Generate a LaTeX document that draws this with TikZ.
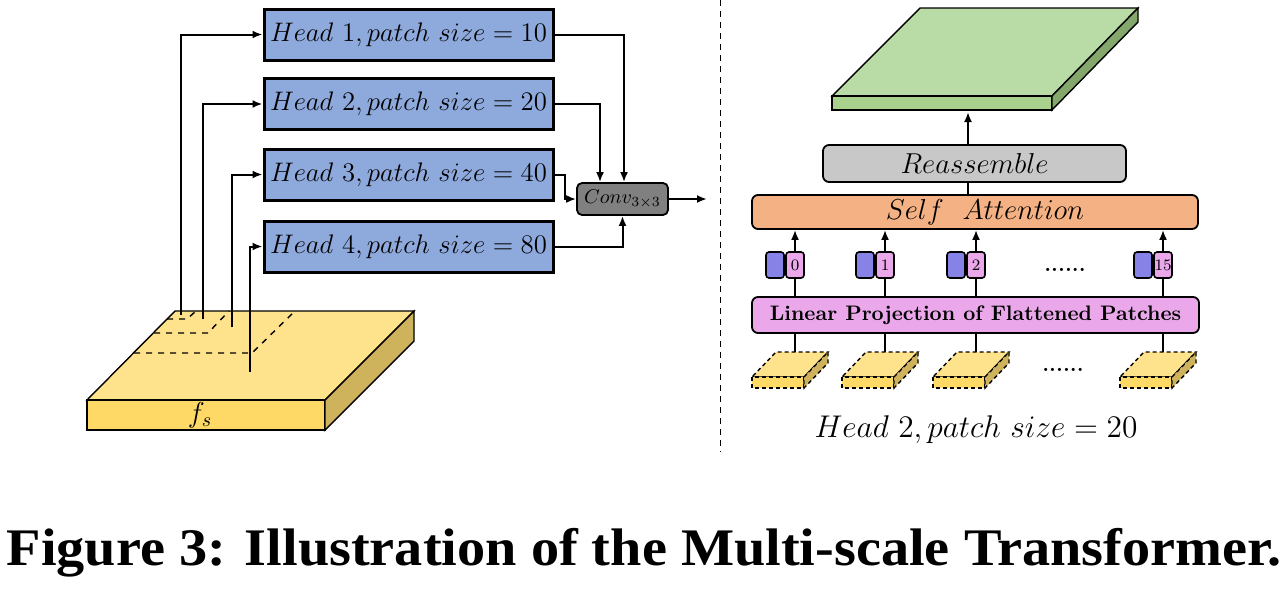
\RequirePackage{fix-cm}
\documentclass[tikz,border=0pt]{standalone}
\usepackage{fontspec}
\usepackage{graphicx}
\newfontfamily\capfont{Liberation Serif}
\usetikzlibrary{arrows.meta}
\definecolor{headblue}{RGB}{142,169,219}
\definecolor{convgray}{RGB}{128,128,128}
\definecolor{reagray}{RGB}{200,200,200}
\definecolor{attorange}{RGB}{244,177,131}
\definecolor{projpink}{RGB}{234,168,234}
\definecolor{tokblue}{RGB}{135,130,230}
\definecolor{slabtop}{RGB}{255,226,140}
\definecolor{slabfront}{RGB}{255,217,102}
\definecolor{slabside}{RGB}{207,178,92}
\definecolor{greentop}{RGB}{185,220,166}
\definecolor{greenfront}{RGB}{169,209,142}
\definecolor{greenside}{RGB}{132,168,108}
\tikzset{
  fleche/.style={-{Latex[length=5pt,width=4pt]},line width=1pt},
  trait/.style={line width=1pt},
  headbox/.style={draw,line width=1.5pt,fill=headblue,minimum width=144.5pt,minimum height=25.5pt,inner sep=0pt,font=\fontsize{13.4}{15}\selectfont},
  convbox/.style={draw,line width=0.9pt,fill=convgray,rounded corners=2.5pt,minimum width=45.5pt,minimum height=16pt,inner sep=0pt,font=\fontsize{10}{12}\selectfont},
  layerbox/.style={draw,line width=0.9pt,rounded corners=3pt,inner sep=0pt,font=\fontsize{14.4}{16}\selectfont},
  tokbox/.style={draw,line width=0.8pt,rounded corners=1.5pt,minimum width=9pt,minimum height=13pt,inner sep=0pt,font=\fontsize{8}{9}\selectfont},
  face/.style={draw,line width=0.7pt},
  patchface/.style={draw,line width=0.7pt,dash pattern=on 2pt off 1.5pt}
}
\begin{document}
\begin{tikzpicture}[x=0.5pt,y=-0.5pt]
\useasboundingbox (0,0) rectangle (1288,589);
% partie gauche
\draw[face,fill=slabtop] (175,311)--(414,311)--(325,400)--(87,400)--cycle;
\draw[face,fill=slabfront] (87,400) rectangle (325,430);
\draw[face,fill=slabside] (325,400)--(414,311)--(414,341)--(325,430)--cycle;
\draw[dashed,line width=0.7pt] (167,319)--(187,319)--(196,311);
\draw[dashed,line width=0.7pt] (154,333)--(208,333)--(229,311);
\draw[dashed,line width=0.7pt] (134,353)--(252,353)--(295,311);
\node (fs) at (200,415) {\fontsize{14.4}{16}\selectfont$f_s$};
\coordinate (p1) at (181,315);
\coordinate (p2) at (203,319);
\coordinate (p3) at (232,327);
\coordinate (p4) at (250,372);
\foreach \i/\p/\y in {1/10/34.5,2/20/104,3/40/174.5,4/80/246.5}
  \node[headbox] (h\i) at (408.5,\y) {$Head\ \i, patch\ size = \p$};
\foreach \i in {1,...,4}
  \draw[fleche] (p\i) |- (h\i.west);
\node[convbox] (conv) at (622.5,199) {$Conv_{3\times 3}$};
\draw[fleche] (h1.east) -| ([xshift=0.75pt]conv.north);
\draw[fleche] (h2.east) -| ([xshift=-11.25pt]conv.north);
\draw[fleche] (h3.east) -- ++(10,0) |- (conv.west);
\draw[fleche] (h4.east) -| (conv.south);
\coordinate (out) at (707,199);
\draw[fleche] (conv.east) -- (out);
\draw[line width=0.5pt,dash pattern=on 3pt off 2.5pt] (720,0) -- (720,452);
% partie droite
\draw[face,fill=greentop] (920,8)--(1138,8)--(1052,96)--(832,96)--cycle;
\draw[face,fill=greenfront] (832,96) rectangle (1052,110);
\draw[face,fill=greenside] (1052,96)--(1138,8)--(1138,22)--(1052,110)--cycle;
\coordinate (gs) at (968,112);
\node[layerbox,fill=reagray,minimum width=151.5pt,minimum height=18.5pt] (rea) at (974.5,163.5) {$Reassemble$};
\node[layerbox,fill=attorange,minimum width=223pt,minimum height=17pt] (sa) at (975,212) {\hspace{10pt}$Self\ \ Attention$};
\node[layerbox,fill=projpink,minimum width=223.5pt,minimum height=18pt,font=\fontsize{10.5}{12}\selectfont\bfseries] (lp) at (975.5,315) {Linear Projection of Flattened Patches};
\draw[fleche] (rea.north -| gs) -- (gs);
\draw[trait] (sa.north -| gs) -- (rea.south -| gs);
\foreach \i/\x/\n in {1/795/0,2/885/1,3/976/2,4/1163/15}{
  \node[tokbox,fill=projpink] (t\i) at (\x,265) {\n};
  \node[tokbox,fill=tokblue] (b\i) at (\x-20,265) {};
  \draw[fleche] (t\i.north) -- (t\i.north |- sa.south);
  \draw[trait] (lp.north -| t\i) -- (t\i.south);
  \draw[patchface,fill=slabtop] (\x-43,377)--(\x+9,377)--(\x+33,352)--(\x-19,352)--cycle;
  \draw[patchface,fill=slabfront] (\x-43,377) rectangle (\x+9,388);
  \draw[patchface,fill=slabside] (\x+9,377)--(\x+33,352)--(\x+33,363)--(\x+9,388)--cycle;
  \coordinate (pa\i) at (\x,352);
  \draw[trait] (pa\i) -- (pa\i |- lp.south);
}
\node (dt) at (1065,270) {\fontsize{11}{12}\selectfont\bfseries ......};
\node (dp) at (1063,370) {\fontsize{11}{12}\selectfont\bfseries ......};
\node (cap2) at (976,430) {\fontsize{15.7}{18}\selectfont$Head\ 2, patch\ size = 20$};
\node (fig) at (644,553) {\scalebox{1.066}[1]{\capfont\bfseries\fontsize{26.4}{29}\selectfont Figure 3: Illustration of the Multi-scale Transformer.}};
\end{tikzpicture}
\end{document}
